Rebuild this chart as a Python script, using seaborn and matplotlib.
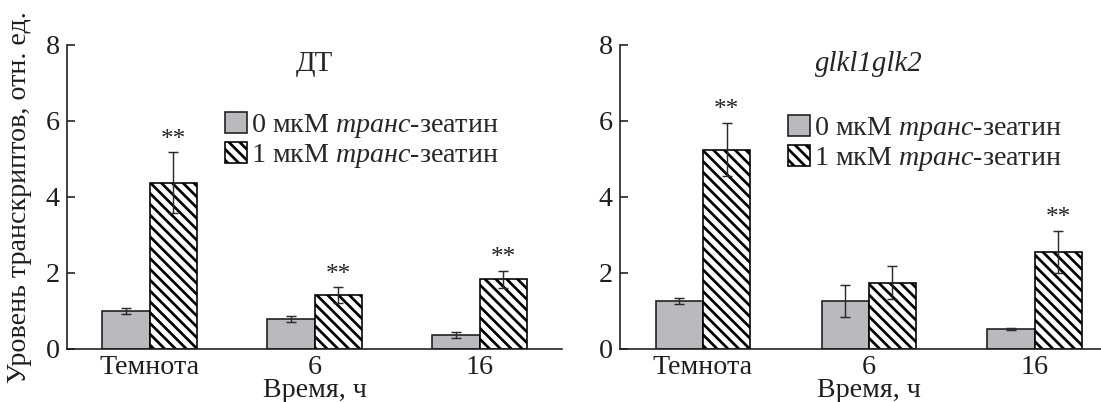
import numpy as np
import pandas as pd
import matplotlib
matplotlib.use("Agg")
import matplotlib.pyplot as plt
from matplotlib.patches import Patch
import seaborn as sns

# values
categories = ["Темнота", "6", "16"]
treatments = ["0 мкМ", "1 мкМ"]

wt_ctrl = [1.00, 0.79, 0.37]
wt_ctrl_err = [0.08, 0.08, 0.07]
wt_zea = [4.38, 1.42, 1.83]
wt_zea_err = [0.80, 0.20, 0.23]
wt_sig = [True, True, True]

mut_ctrl = [1.26, 1.26, 0.53]
mut_ctrl_err = [0.08, 0.43, 0.03]
mut_zea = [5.25, 1.75, 2.56]
mut_zea_err = [0.70, 0.43, 0.55]
mut_sig = [True, False, True]

DPI = 130
sns.set_style("ticks")
plt.rcParams["font.family"] = ["Liberation Serif", "DejaVu Serif"]
plt.rcParams["mathtext.fontset"] = "custom"
plt.rcParams["mathtext.rm"] = "Liberation Serif"
plt.rcParams["mathtext.it"] = "Liberation Serif:italic"
plt.rcParams["hatch.linewidth"] = 1.5
plt.rcParams["hatch.color"] = "black"

FS = 15.5
GRAY = "#b9b9be"
EDGE = "#1e1e1e"
HATCH = "\\\\\\\\"

fig = plt.figure(figsize=(1101 / DPI, 402 / DPI), dpi=DPI)
ax1 = fig.add_axes([67 / 1101, 53 / 402, 495 / 1101, 304 / 402])
ax2 = fig.add_axes([620 / 1101, 53 / 402, 481 / 1101, 304 / 402])


def panel(ax, ctrl, ctrl_err, zea, zea_err, sig, title, italic, xmax):
    df = pd.DataFrame({
        "time": categories * 2,
        "treat": [treatments[0]] * 3 + [treatments[1]] * 3,
        "value": ctrl + zea,
    })
    sns.barplot(data=df, x="time", y="value", hue="treat", order=categories,
                hue_order=treatments, palette=[GRAY, "white"], width=0.57,
                gap=0, errorbar=None, legend=False, ax=ax,
                edgecolor=EDGE, linewidth=0.9, saturation=1)
    for bar in ax.containers[1]:
        bar.set_hatch(HATCH)
        bar.set_edgecolor("black")

    for cont, vals, errs in [(ax.containers[0], ctrl, ctrl_err),
                             (ax.containers[1], zea, zea_err)]:
        xs = [p.get_x() + p.get_width() / 2 for p in cont]
        ax.errorbar(xs, vals, yerr=errs, fmt="none", ecolor="#2a2a2a",
                    elinewidth=0.8, capsize=3, capthick=0.8)

    for p, v, e, s in zip(ax.containers[1], zea, zea_err, sig):
        if s:
            ax.text(p.get_x() + p.get_width() / 2, v + e + 0.17, "**",
                    ha="center", va="baseline", fontsize=14, color="#222")

    ax.text(1, 7.5, title, ha="center", va="center", fontsize=16,
            fontstyle="italic" if italic else "normal")

    ax.set_xlim(-0.5, xmax)
    ax.set_ylim(0, 8)
    ax.set_yticks([0, 2, 4, 6, 8])
    sns.despine(ax=ax)
    for sp in ["left", "bottom"]:
        ax.spines[sp].set_linewidth(0.9)
        ax.spines[sp].set_color(EDGE)
    ax.tick_params(axis="y", direction="in", length=4.5, width=0.9,
                   pad=4, labelsize=FS, colors=EDGE)
    ax.tick_params(axis="x", length=0, pad=3.5, labelsize=FS, colors=EDGE)
    ax.set_xlabel("Время, ч", fontsize=FS, color=EDGE)
    ax.xaxis.set_label_coords((1 + 0.5) / (xmax + 0.5), -0.095)
    ax.set_ylabel("")

    handles = [Patch(facecolor=GRAY, edgecolor=EDGE, linewidth=0.9),
               Patch(facecolor="white", edgecolor="black", linewidth=0.9,
                     hatch=HATCH)]
    labels = [r"0 мкМ $\mathit{транс}$-зеатин",
              r"1 мкМ $\mathit{транс}$-зеатин"]
    return handles, labels


h, l = panel(ax1, wt_ctrl, wt_ctrl_err, wt_zea, wt_zea_err, wt_sig,
             "ДТ", False, 2.5)
ax1.legend(h, l, loc="upper left", bbox_to_anchor=(0.319, 0.78),
           frameon=False, fontsize=FS, handlelength=0.8, handleheight=0.8,
           handletextpad=0.15, labelspacing=0.05, borderpad=0,
           borderaxespad=0)
ax1.set_ylabel("Уровень транскриптов, отн. ед.", fontsize=FS, color=EDGE)
ax1.yaxis.set_label_coords(-0.07, 0.5)

h, l = panel(ax2, mut_ctrl, mut_ctrl_err, mut_zea, mut_zea_err, mut_sig,
             "glkl1glk2", True, 2.4)
ax2.legend(h, l, loc="upper left", bbox_to_anchor=(0.349, 0.77),
           frameon=False, fontsize=FS, handlelength=0.8, handleheight=0.8,
           handletextpad=0.15, labelspacing=0.05, borderpad=0,
           borderaxespad=0)

fig.savefig("out.png", dpi=DPI)
